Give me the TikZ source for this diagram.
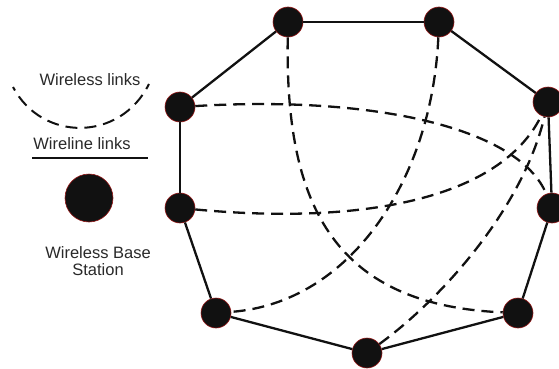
\documentclass[tikz,border=0pt]{standalone}
\usepackage{fontspec}
\setmainfont{Liberation Sans}
\usetikzlibrary{positioning}
\tikzstyle{network} = [x = 1pt, y = -1pt]
\definecolor{stationColor}{RGB}{17,17,17}
\definecolor{rimColor}{RGB}{150,25,25}
\tikzstyle{stationStyle} = [circle, fill=stationColor, draw=rimColor, line width=.6pt, minimum size=30pt, inner sep=0pt]
\tikzstyle{wirelineStyle} = [color=stationColor, line width=2.3pt]
\tikzstyle{wirelessStyle} = [color=stationColor, line width=2.3pt, dash pattern=on 12pt off 7pt]
\tikzstyle{legendText} = [font=\fontsize{16.5}{17.5}\selectfont, color=stationColor!90, align=center]
\newcommand{\station}[3]{\node [stationStyle] (#1) at (#2, #3) {};}

\begin{document}
\begin{tikzpicture}[network]
          \useasboundingbox (0,0) rectangle (559,369);
          % legend
          \node [legendText] (wirelessText) at (90,80) {Wireless links};
          \coordinate (wirelessStart) at (13,87);
          \coordinate (wirelessEnd) at (149,84);
          \draw [wirelessStyle, line width=2pt, dash phase=8pt] (wirelessStart) .. controls (42,142) and (120,142) .. (wirelessEnd);
          \node [legendText] (wirelineText) at (82,144) {Wireline links};
          \coordinate (wirelineStart) at (32,158);
          \coordinate (wirelineEnd) at (148,158);
          \draw [wirelineStyle, line width=2pt] (wirelineStart) -- (wirelineEnd);
          \node [stationStyle, minimum size=48pt] (legendStation) at (89,198) {};
          \node [legendText] (stationText) at (98,261) {Wireless Base\\Station};

          % base stations
          \station{t1}{288}{22}
          \station{t2}{439}{22}
          \station{r1}{548}{102}
          \station{r2}{552}{208}
          \station{br}{518}{313}
          \station{b}{367}{353}
          \station{bl}{216}{313}
          \station{l2}{180}{208}
          \station{l1}{180}{107}

          % wireline ring
          \foreach \from/\to in {t1/t2, t2/r1, r1/r2, r2/br, br/b, b/bl, bl/l2, l2/l1, l1/t1} {
            \draw [wirelineStyle] (\from) -- (\to);
          }

          % wireless links
          \draw [wirelessStyle] (t1) .. controls (285,200) and (330,305) .. (br);
          \draw [wirelessStyle] (t2) .. controls (432,180) and (350,303) .. (bl);
          \draw [wirelessStyle] (l1) .. controls (380,95) and (520,130) .. (r2);
          \draw [wirelessStyle] (l2) .. controls (360,225) and (500,200) .. (r1);
          \draw [wirelessStyle] (b) .. controls (440,300) and (522,210) .. (r1);
        \end{tikzpicture}
\end{document}
